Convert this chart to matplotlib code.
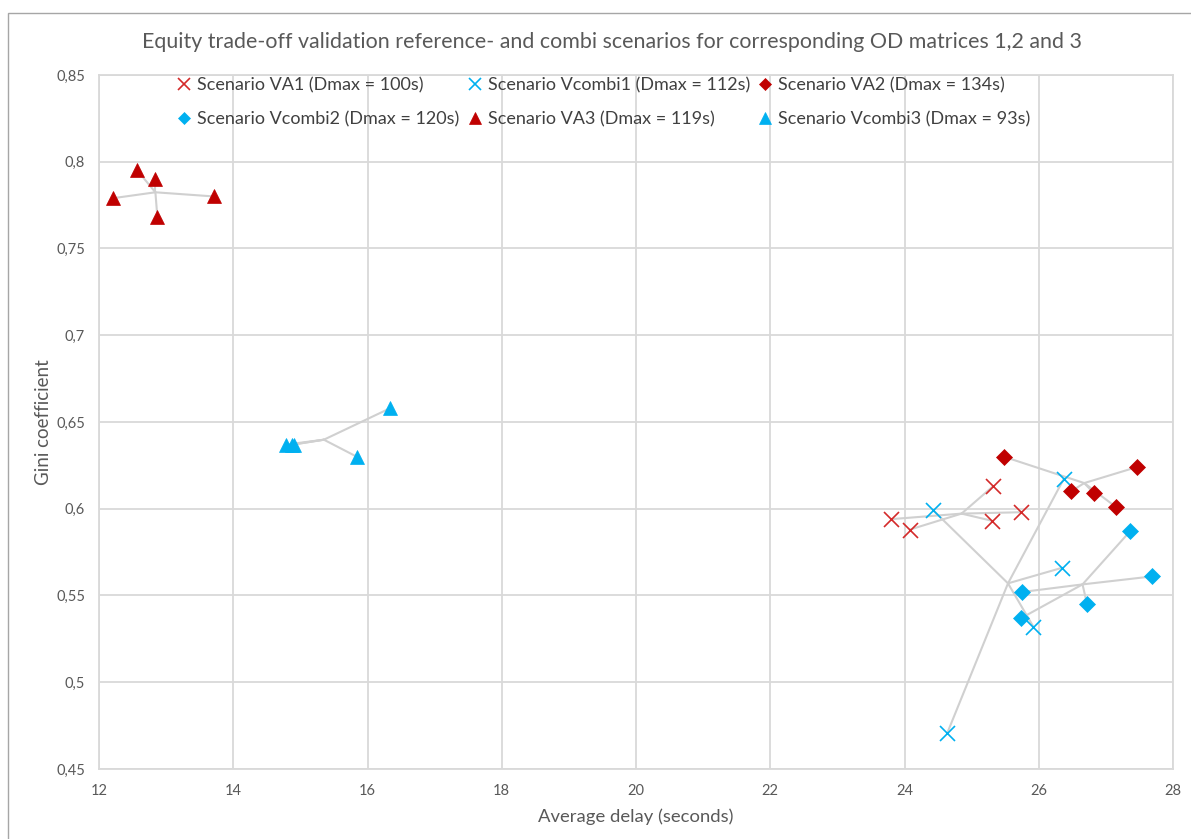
import numpy as np
import matplotlib
matplotlib.use("Agg")
import matplotlib.pyplot as plt
from matplotlib.ticker import FuncFormatter, MultipleLocator
from matplotlib.patches import Rectangle

plt.rcParams['font.family'] = ['Lato', 'DejaVu Sans']

# ---- data ----
va1_x = [23.80, 24.08, 25.32, 25.31, 25.74]
va1_y = [0.594, 0.588, 0.613, 0.593, 0.598]
vc1_x = [24.43, 26.37, 26.35, 25.92, 24.64]
vc1_y = [0.599, 0.617, 0.566, 0.532, 0.471]
va2_x = [25.48, 27.46, 26.48, 26.82, 27.15]
va2_y = [0.630, 0.624, 0.610, 0.609, 0.601]
vc2_x = [27.36, 27.69, 25.75, 26.72, 25.74]
vc2_y = [0.587, 0.561, 0.552, 0.545, 0.537]
va3_x = [12.21, 12.57, 12.84, 12.87, 13.71]
va3_y = [0.779, 0.795, 0.790, 0.768, 0.780]
vc3_x = [14.79, 14.88, 14.90, 15.84, 16.34]
vc3_y = [0.637, 0.637, 0.637, 0.630, 0.658]

labels = ["Scenario VA1 (Dmax = 100s)", "Scenario Vcombi1 (Dmax = 112s)",
          "Scenario VA2 (Dmax = 134s)", "Scenario Vcombi2 (Dmax = 120s)",
          "Scenario VA3 (Dmax = 119s)", "Scenario Vcombi3 (Dmax = 93s)"]

RED = '#C00000'
RED_X = '#D42A2A'
BLUE = '#00B0F0'
GRAY = '#595959'
GRID = '#D9D9D9'

series = [
    (va1_x, va1_y, 'x', RED_X, 10.8, 1.2),
    (vc1_x, vc1_y, 'x', BLUE, 10.8, 1.2),
    (va2_x, va2_y, 'D', RED, 8.0, 0.5),
    (vc2_x, vc2_y, 'D', BLUE, 8.0, 0.5),
    (va3_x, va3_y, '^', RED, 10.5, 0.5),
    (vc3_x, vc3_y, '^', BLUE, 10.5, 0.5),
]

fig = plt.figure(figsize=(11.91, 8.39), dpi=100)
ax = fig.add_axes([99/1191, 1-769/839, (1173-99)/1191, (769-75)/839])

# outer chart border
fig.patches.append(Rectangle((8/1191, -0.1), 1.2, 1-13/839+0.1, transform=fig.transFigure,
                             fill=False, edgecolor='#A6A6A6', linewidth=1.0))

handles = []
for (xs, ys, m, c, ms, mew), lab in zip(series, labels):
    xs = np.asarray(xs); ys = np.asarray(ys)
    cx, cy = xs.mean(), ys.mean()
    for x, y in zip(xs, ys):
        ax.plot([cx, x], [cy, y], color='#D0D0D0', lw=1.5, zorder=2, solid_capstyle='round')
    h, = ax.plot(xs, ys, linestyle='none', marker=m, color=c, markersize=ms,
                 markeredgewidth=mew, markeredgecolor=c, zorder=3, label=lab)
    handles.append(h)

ax.set_xlim(12, 28)
ax.set_ylim(0.45, 0.85)
ax.xaxis.set_major_locator(MultipleLocator(2))
ax.yaxis.set_major_locator(MultipleLocator(0.05))
ax.yaxis.set_major_formatter(FuncFormatter(lambda v, p: f"{round(v, 2):g}".replace('.', ',')))
ax.grid(True, color=GRID, lw=1.3, zorder=0)
ax.set_axisbelow(True)
for s in ax.spines.values():
    s.set_color(GRID)
    s.set_linewidth(1.3)
ax.tick_params(length=0, labelsize=10.5, labelcolor=GRAY, pad=10)
ax.tick_params(axis='x', pad=11)

ax.set_xlabel("Average delay (seconds)", fontsize=13.3, color=GRAY, labelpad=7)
ax.set_ylabel("Gini coefficient", fontsize=13.5, color=GRAY, labelpad=3)

fig.text(612/1191, 1-42/839, "Equity trade-off validation reference- and combi scenarios for corresponding OD matrices 1,2 and 3",
         ha='center', va='center', fontsize=15.4, color=GRAY)

order = [0, 3, 1, 4, 2, 5]
leg = fig.legend([handles[i] for i in order], [labels[i] for i in order], ncol=3,
                 loc='upper left', bbox_to_anchor=(177/1191, 1-77/839),
                 frameon=False, fontsize=13, handlelength=0.8, handletextpad=0.32,
                 columnspacing=0.45, labelspacing=0.98, borderpad=0, borderaxespad=0,
                 markerscale=0.82)
for t in leg.get_texts():
    t.set_color('#404040')

fig.savefig("out.png", dpi=100)
